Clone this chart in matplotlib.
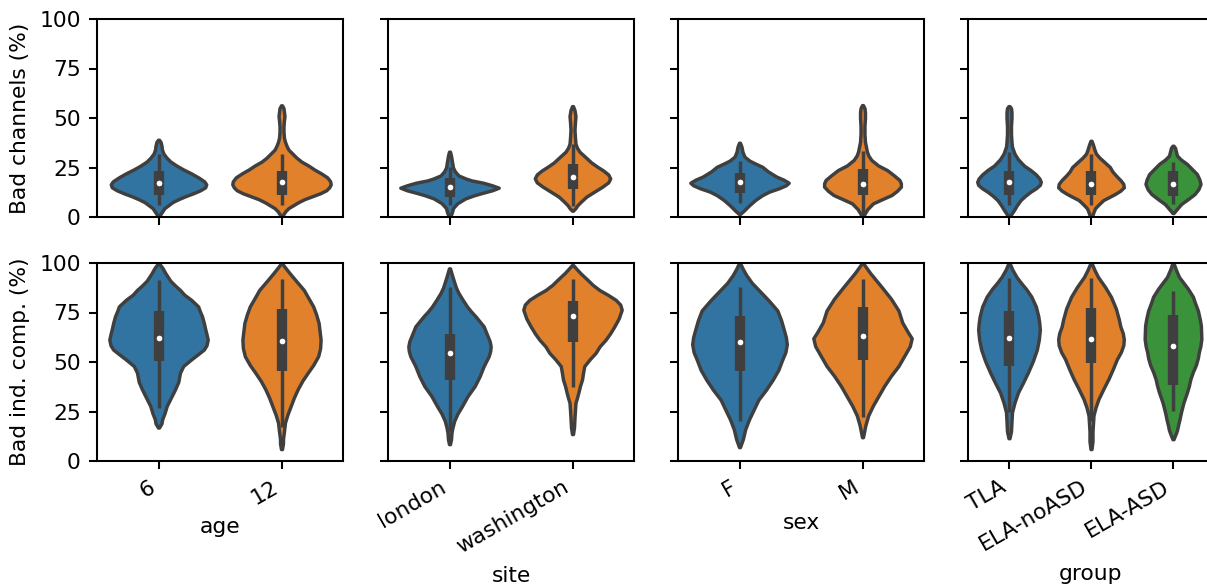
import matplotlib
matplotlib.use("Agg")
import matplotlib.pyplot as plt
import numpy as np

# ---------------- data ----------------
# Each violin: y values (%) and relative density.
age_labels = ["6", "12"]
site_labels = ["london", "washington"]
sex_labels = ["F", "M"]
group_labels = ["TLA", "ELA-noASD", "ELA-ASD"]

# ---- Row 1: Bad channels (%) ----
ch_age6_v = [0.5, 1.5, 3, 4.5, 6, 7.5, 9, 10.5, 12, 13.5, 15, 16.5, 18, 20, 22, 24, 26, 28, 30, 32, 34, 36, 38, 39]
ch_age6_d = [1, 2, 4, 6, 10, 14, 20, 27, 35, 42, 47, 48, 46, 40, 33, 25, 18, 12, 8, 5, 3.5, 3, 2, 0.5]
ch_age12_v = [0.5, 1.5, 3, 4.5, 6, 7.5, 9, 10.5, 12, 13.5, 15, 16.5, 18, 20, 22, 24, 26, 28, 30, 32, 34, 36, 38,
              40, 43, 46, 49, 51, 53, 55, 56.4]
ch_age12_d = [1, 2, 4, 7, 12, 17, 23, 31, 39, 45, 48, 49.5, 49, 46, 40, 33, 27, 20, 15, 11, 7, 5, 3.5,
              2.5, 2, 2, 2.5, 3, 2.5, 2, 0.5]
ch_lon_v = [0.5, 2.5, 4.5, 7, 9.4, 11, 12.3, 13.5, 14.8, 16, 17.3, 18.5, 19.5, 21, 23, 25, 28, 31, 33]
ch_lon_d = [1, 2.5, 3.5, 8, 16, 25, 34, 43, 49.6, 43, 34, 22, 16, 9, 5.5, 3.5, 2.5, 1.5, 0.5]
ch_was_v = [3.2, 4.5, 6, 8, 10.3, 12.5, 15.3, 17.5, 19.5, 21.5, 23.5, 25.4, 27.5, 30.5, 33, 35, 37, 40, 44,
            48, 51, 54, 56]
ch_was_d = [0.5, 3, 5, 9, 14, 21, 30, 36, 38, 36, 31, 25, 19, 12.5, 7, 4.5, 3, 2.5, 2, 2.5, 3, 2, 0.5]
ch_F_v = [1.5, 3.5, 6, 8.6, 11, 12.8, 14.5, 16, 17.3, 18.8, 20.4, 23, 25.4, 27, 28.5, 30.5, 33, 35.5, 37.5]
ch_F_d = [0.5, 5, 10, 16, 23, 30, 40, 47, 50, 45, 37.5, 29, 23, 16, 10, 5, 3, 2, 0.5]
ch_M_v = [0.5, 2, 4, 6.9, 9, 11.1, 13.2, 15.3, 17, 18.7, 21, 23.7, 26, 28.8, 31, 33, 35.5, 38, 42, 46,
          50, 53, 55, 56.5]
ch_M_d = [1, 2.5, 5, 10.7, 20, 29.5, 35, 39, 39, 37.5, 32, 25, 16, 9, 6, 4.5, 3.5, 2.5, 2, 2,
          2.5, 2.5, 2, 0.5]
ch_TLA_v = [0.5, 2, 3.5, 6, 8.6, 10.8, 12.8, 14.5, 16.2, 17.8, 19.5, 21.5, 23.7, 26, 29.2, 32, 35.5, 38,
            42, 46, 50, 53, 55, 56]
ch_TLA_d = [1, 3, 5, 8, 11.7, 16.5, 21.7, 27, 31, 32, 30.5, 27, 21.7, 15, 9, 5.5, 3, 2.5,
            2, 2, 2.5, 2.5, 2, 0.5]
ch_noA_v = [1, 2.5, 4.4, 6.5, 8.6, 10, 11.6, 13.3, 15, 16.7, 18.4, 21, 23, 25.2, 27.5, 30, 32, 34, 36.5, 38.5]
ch_noA_d = [1.5, 2.5, 4, 8, 12.5, 18, 24, 29.5, 33, 32.5, 30, 25, 21.5, 19, 14, 8.5, 5, 3.5, 2, 0.5]
ch_ASD_v = [2, 3.5, 5, 6.6, 9, 11.6, 14, 16.7, 19, 21.7, 24, 26.8, 29, 31, 33, 35, 36]
ch_ASD_d = [0.5, 3, 5.5, 8.3, 15, 21.7, 25.5, 27.7, 26.5, 24, 19.5, 14, 8, 4, 3, 2, 0.5]

# ---- Row 2: Bad ind. comp. (%) ----
ic_age6_v = [16.9, 19, 21.1, 24, 27.8, 32, 36.2, 40, 44.6, 48, 51.3, 54, 56.3, 58.5, 61.3, 64, 67, 69.7,
             73, 76, 78.1, 81.4, 84, 86.4, 88.5, 91, 94.8, 97.5, 99.8]
ic_age6_d = [0.5, 3, 3.7, 6, 8.3, 12.5, 16.7, 20, 21.7, 25, 33, 40, 45.8, 48.5, 49.7, 48.5, 47, 45.8,
             44, 41.5, 40, 33, 26, 21.7, 17, 12, 7, 4, 0.5]
ic_age12_v = [6, 9, 11.1, 15, 19.4, 23.5, 27.8, 32, 36.2, 40.5, 44.6, 48.5, 52.9, 57, 61.3, 65.5, 69.7,
              74, 78.1, 82, 86.4, 90.5, 94.8, 97.5, 99.8]
ic_age12_d = [0.5, 1.5, 1.5, 2.5, 3.5, 6, 9.3, 12.5, 16.3, 21, 26.5, 32, 37, 39, 39.5, 38.5, 37.5,
              35, 32, 27.5, 22.5, 15.5, 8.3, 4, 0.5]
ic_lon_v = [8.5, 11, 14.4, 17, 20.3, 24, 27.8, 32.8, 37.8, 42.8, 47.9, 52.9, 55.5, 57.9, 60.5, 63, 65.5,
            68, 70.5, 73, 75.5, 78, 81.5, 84.8, 87.5, 89.8, 93, 97.3]
ic_lon_d = [0.5, 1.5, 2, 3, 4.7, 8, 12.5, 18, 25, 30, 34, 39, 40.5, 41, 40, 38, 36,
            34, 30, 26, 21.5, 17.5, 13, 9, 6.5, 5, 3, 0.5]
ic_was_v = [13.6, 17, 22, 26, 29.5, 32, 34.5, 38, 41.2, 44.5, 47.9, 51.3, 54.6, 57.9, 61.3, 64.5, 68, 72,
            76.4, 79, 81.4, 84, 86.4, 89, 91.5, 94.8, 97, 99]
ic_was_d = [0.5, 1.5, 2, 2.5, 3, 4.5, 5.8, 7.5, 9.5, 10.5, 11.7, 17, 23, 27, 33, 37.5, 41.7, 46,
            49, 47.5, 43, 35, 26.7, 20, 15, 8, 4, 0.5]
ic_F_v = [7, 11, 16, 21, 26, 31, 36, 41, 46, 51, 55, 59, 62.5, 66, 71, 76, 81, 86, 90, 94, 97, 100]
ic_F_d = [0.5, 3.5, 6, 10, 15, 20, 28, 35, 41, 45, 48.5, 50, 49, 47, 44, 40, 31, 21, 13, 7, 3.5, 0.5]
ic_M_v = [12, 18, 23, 28, 33, 38, 43, 48, 53, 58, 62, 65, 70, 76, 82, 88, 95, 100]
ic_M_d = [0.5, 3, 6, 11, 17, 23, 30, 38, 44, 50, 52, 48, 42, 38, 30, 20, 8, 0.5]
ic_TLA_v = [11.5, 15, 20, 24.6, 29.5, 34.6, 39.5, 44.7, 50.5, 56.3, 61.3, 66.3, 69.5, 73, 78, 83, 87, 90,
            93, 96.5, 100]
ic_TLA_d = [0.5, 2, 2.5, 3, 5.5, 9, 14, 19, 24, 28, 30, 31, 30.5, 29.5, 27, 22.5, 17, 12,
            7.5, 3.5, 0.5]
ic_noA_v = [6, 10, 15, 19, 23, 27, 31.3, 36.5, 41.4, 46.5, 51.4, 55, 58.5, 61.5, 64.5, 68, 71.5, 77, 83,
            88, 93, 96.5, 100]
ic_noA_d = [0.5, 1.5, 1.5, 2, 2.5, 4.5, 7.5, 12.5, 17.5, 22, 26, 30, 32.5, 33, 32, 29.5, 28, 25, 20,
            14, 7, 3.5, 0.5]
ic_ASD_v = [11, 13.5, 15.5, 17.9, 21, 24.6, 29.5, 34.6, 38, 41.4, 45, 48.5, 52, 55, 58, 61.5, 65, 68.5,
            71.5, 76, 80, 83, 87, 90, 93, 96.5, 100]
ic_ASD_d = [0.5, 2.5, 4, 5, 6.5, 8, 10.5, 14, 16, 17.5, 20, 23, 25, 26, 27.5, 28.5, 28.3, 28,
            27, 25, 22, 20, 15, 10.5, 6, 3, 0.5]

# box stats: [lower whisker, q1, median, q3, upper whisker]
ch_age_box = [[6, 11.1, 17, 23.4, 32], [6, 11.3, 17.5, 23.1, 32]]
ch_site_box = [[6, 9.9, 15, 19.8, 25.4], [5.7, 14.3, 20.2, 26.8, 37]]
ch_sex_box = [[7, 12, 17.5, 22.4, 28.5], [0.5, 11, 16.8, 24, 33.3]]
ch_group_box = [[6, 11, 17.5, 23.1, 33], [6, 11, 16.8, 23, 32], [6.6, 10.8, 16.7, 23.4, 28]]
ic_age_box = [[27, 50.4, 62, 75.9, 91.5], [17, 45.4, 60.5, 77, 92]]
ic_site_box = [[15, 40.7, 54.3, 64.3, 88], [37.5, 60.3, 73, 80.9, 92]]
ic_sex_box = [[20, 45.7, 60, 73, 88], [22, 51, 63, 78, 92]]
ic_group_box = [[24.6, 47.9, 62, 76, 92.3], [20, 49.6, 61.6, 77.4, 92.6], [25.3, 38.4, 58, 73.9, 86]]

row_labels = ["Bad channels (%)", "Bad ind. comp. (%)"]
col_xlabels = ["age", "site", "sex", "group"]

# ---------------- style ----------------
colors = ["#3274a1", "#e1812c", "#3a923a"]
gray = "#3f3f3f"
DPI = 165
plt.rcParams["font.size"] = 9.5
plt.rcParams["axes.linewidth"] = 0.9
plt.rcParams["xtick.major.width"] = 0.9
plt.rcParams["ytick.major.width"] = 0.9

fig = plt.figure(figsize=(1207 / DPI, 588 / DPI), dpi=DPI)

panels = [
    [([ch_age6_v, ch_age12_v], [ch_age6_d, ch_age12_d], ch_age_box, age_labels),
     ([ch_lon_v, ch_was_v], [ch_lon_d, ch_was_d], ch_site_box, site_labels),
     ([ch_F_v, ch_M_v], [ch_F_d, ch_M_d], ch_sex_box, sex_labels),
     ([ch_TLA_v, ch_noA_v, ch_ASD_v], [ch_TLA_d, ch_noA_d, ch_ASD_d], ch_group_box, group_labels)],
    [([ic_age6_v, ic_age12_v], [ic_age6_d, ic_age12_d], ic_age_box, age_labels),
     ([ic_lon_v, ic_was_v], [ic_lon_d, ic_was_d], ic_site_box, site_labels),
     ([ic_F_v, ic_M_v], [ic_F_d, ic_M_d], ic_sex_box, sex_labels),
     ([ic_TLA_v, ic_noA_v, ic_ASD_v], [ic_TLA_d, ic_noA_d, ic_ASD_d], ic_group_box, group_labels)],
]

W, H = 1207.0, 588.0
lefts = [97, 388, 678, 968]
ax_w = 246
row_tops = [19, 263]
ax_h = 198

for r in range(2):
    for c in range(4):
        vs, ds, boxes, labels = panels[r][c]
        ax = fig.add_axes([lefts[c] / W, 1 - (row_tops[r] + ax_h) / H, ax_w / W, ax_h / H])
        n = len(labels)
        pos = np.arange(n)
        dmax = max(max(d) for d in ds)  # area scaling: widest density -> half-width 0.4
        stats, widths = [], []
        for v, d, b in zip(vs, ds, boxes):
            stats.append(dict(coords=np.array(v, float), vals=np.array(d, float),
                              mean=b[2], median=b[2], min=v[0], max=v[-1]))
            widths.append(0.8 * max(d) / dmax)
        parts = ax.violin(stats, positions=pos, widths=widths, showextrema=False)
        for i, body in enumerate(parts["bodies"]):
            body.set_facecolor(colors[i])
            body.set_edgecolor(gray)
            body.set_linewidth(1.5)
            body.set_joinstyle("round")
            body.set_alpha(1)
        for i, b in enumerate(boxes):
            ax.plot([pos[i], pos[i]], [b[0], b[4]], color=gray, lw=1.5, solid_capstyle="butt")
            ax.plot([pos[i], pos[i]], [b[1], b[3]], color=gray, lw=4.5, solid_capstyle="butt")
            ax.scatter([pos[i]], [b[2]], s=9, color="white", edgecolor=gray, zorder=3, linewidth=0.5)
        ax.set_xlim(-0.5, n - 0.5)
        ax.set_ylim(0, 100)
        ax.set_yticks([0, 25, 50, 75, 100])
        ax.set_xticks(pos)
        if c == 0:
            ax.set_ylabel(row_labels[r])
        else:
            ax.set_yticklabels([])
        if r == 1:
            ax.set_xticklabels(labels, rotation=30, ha="right")
            ax.set_xlabel(col_xlabels[c])
        else:
            ax.set_xticklabels([])

fig.savefig("out.png", dpi=DPI)
